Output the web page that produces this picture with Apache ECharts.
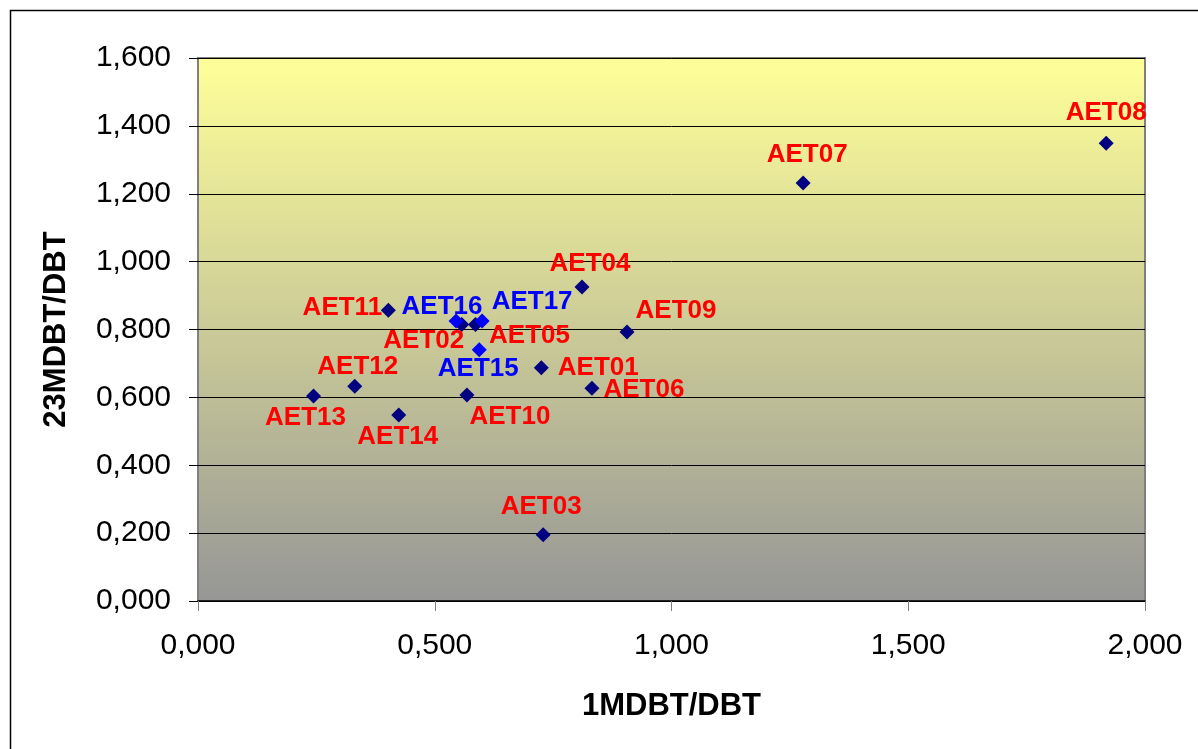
<!DOCTYPE html>
<html>
<head>
<meta charset="utf-8">
<script src="https://cdn.jsdelivr.net/npm/echarts@6/dist/echarts.min.js"></script>
<style>
html,body{margin:0;padding:0;background:#fff;}
#chart{width:1198px;height:749px;}
</style>
</head>
<body>
<div id="chart"></div>
<script>
// Data
const namesA = ['AET01','AET02','AET03','AET04','AET05','AET06','AET07','AET08','AET09','AET10','AET11','AET12','AET13','AET14'];
const xA = [0.725, 0.557, 0.729, 0.811, 0.586, 0.832, 1.278, 1.918, 0.906, 0.568, 0.402, 0.331, 0.244, 0.424];
const yA = [0.687, 0.815, 0.195, 0.925, 0.815, 0.627, 1.232, 1.349, 0.793, 0.607, 0.857, 0.633, 0.604, 0.548];
const namesB = ['AET15','AET16','AET17'];
const xB = [0.594, 0.545, 0.600];
const yB = [0.740, 0.825, 0.825];
const xTicks = [0, 0.5, 1, 1.5, 2];
const yTicks = [0, 0.2, 0.4, 0.6, 0.8, 1.0, 1.2, 1.4, 1.6];
const xTitle = '1MDBT/DBT';
const yTitle = '23MDBT/DBT';

// Label placement (layout only)
const labelOffsets = {
  AET01:[57,0], AET02:[-38,16], AET03:[-2,-28], AET04:[8,-23], AET05:[54,11],
  AET06:[52,2], AET07:[4,-28], AET08:[0,-30], AET09:[49,-21], AET10:[43,22],
  AET11:[-46,-2], AET12:[3,-19], AET13:[-8,22], AET14:[-1,22],
  AET15:[-1,19], AET16:[-14,-14], AET17:[50,-19]
};

function fmt(v){ return v.toFixed(3).replace('.', ','); }

function build(names, xs, ys){
  return names.map((n,i)=>({
    name:n, value:[xs[i], ys[i]],
    label:{offset:labelOffsets[n]}
  }));
}

const FONT = '"Liberation Sans", Arial, sans-serif';
const chart = echarts.init(document.getElementById('chart'), null, {renderer:'canvas'});
chart.setOption({
  animation:false,
  backgroundColor:'#ffffff',
  graphic:[{
    type:'rect', left:8, top:8, z:-10, silent:true,
    shape:{x:0,y:0,width:1200,height:760},
    style:{fill:'none', stroke:'#000', lineWidth:1.5}
  }],
  grid:{
    left:198, right:53, top:58, bottom:148,
    show:true,
    borderColor:'#808080', borderWidth:2,
    backgroundColor:new echarts.graphic.LinearGradient(0,0,0,1,[
      {offset:0,color:'#FFFF99'},{offset:1,color:'#969696'}
    ])
  },
  xAxis:{
    type:'value', min:0, max:2, interval:0.5,
    name:xTitle, nameLocation:'middle', nameGap:90,
    nameTextStyle:{fontFamily:FONT, fontSize:31, fontWeight:'bold', color:'#000'},
    axisLine:{show:true, onZero:false, lineStyle:{color:'#000', width:1.5}},
    axisTick:{show:true, length:10, lineStyle:{color:'#808080'}},
    axisLabel:{fontFamily:FONT, fontSize:30, color:'#000', margin:30, formatter:fmt},
    splitLine:{show:false}
  },
  yAxis:{
    type:'value', min:0, max:1.6, interval:0.2,
    name:yTitle, nameLocation:'middle', nameGap:126,
    nameTextStyle:{fontFamily:FONT, fontSize:31, fontWeight:'bold', color:'#000'},
    axisLine:{show:false},
    axisTick:{show:true, length:9, lineStyle:{color:'#000'}},
    axisLabel:{fontFamily:FONT, fontSize:30, color:'#000', margin:27, formatter:fmt},
    splitLine:{show:true, lineStyle:{color:'#000', width:1}}
  },
  series:[{
    type:'scatter', symbol:'diamond', symbolSize:15,
    itemStyle:{color:'#000080', opacity:1},
    label:{show:true, position:'inside', formatter:'{b}', color:'#FF0000',
      textBorderWidth:0, opacity:1,
      fontFamily:FONT, fontSize:26, fontWeight:'bold'},
    data:build(namesA, xA, yA)
  },{
    type:'scatter', symbol:'diamond', symbolSize:15,
    itemStyle:{color:'#0000FF', opacity:1},
    label:{show:true, position:'inside', formatter:'{b}', color:'#0000FF',
      textBorderWidth:0, opacity:1,
      fontFamily:FONT, fontSize:26, fontWeight:'bold'},
    data:build(namesB, xB, yB)
  }]
});
</script>
</body>
</html>
